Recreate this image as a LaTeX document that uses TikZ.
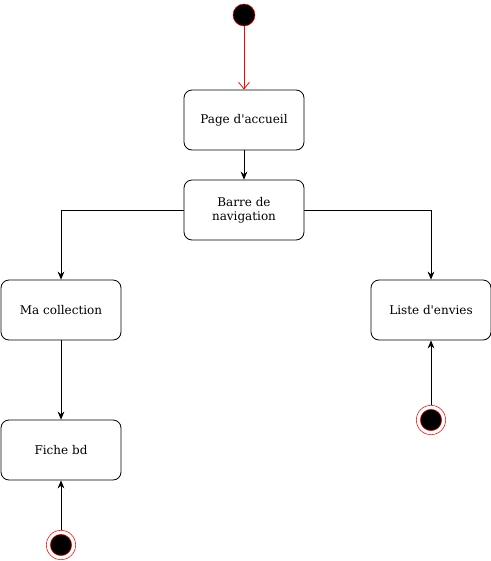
\documentclass[tikz,border=0pt]{standalone}
\usepackage{fontspec}
\setmainfont{DejaVu Serif}
\usetikzlibrary{arrows.meta,positioning}

\begin{document}
\begin{tikzpicture}[x=0.75pt,y=-0.75pt,>={Stealth[length=6pt,width=5pt]},font=\fontsize{9}{10.5}\selectfont,
  statebox/.style={draw,rounded corners=6pt,minimum width=90pt,minimum height=45pt,align=center,line width=0.6pt},
  startstate/.style={circle,draw=red,fill=black,minimum size=16.5pt,inner sep=0pt},
  endstate/.style={circle,draw=red,minimum size=22pt,inner sep=0pt,
    path picture={\fill[black,draw=red,line width=0.4pt] (path picture bounding box.center) circle (8pt);}},
  flow/.style={->,line width=0.6pt}]
\useasboundingbox (0,0) rectangle (491,561);
% states
\node[startstate] (init) at (244,15) {};
\node[statebox] (accueil) at (244,120) {Page d\textquotesingle accueil};
\node[statebox] (barre) at (244,210) {Barre de\\navigation};
\node[statebox] (collection) at (61,310) {Ma collection};
\node[statebox] (envies) at (431,310) {Liste d\textquotesingle envies};
\node[statebox] (fiche) at (61,450) {Fiche bd};
\node[endstate] (finL) at (61,545) {};
\node[endstate] (finR) at (431,420) {};
% transitions
\draw[->,red,line width=0.6pt,>={Straight Barb[length=5pt,width=8pt]}] (init) -- (accueil);
\draw[flow] (accueil) -- (barre);
\draw[flow] (barre.west) -| (collection.north);
\draw[flow] (barre.east) -| (envies.north);
\draw[flow] (collection) -- (fiche);
\draw[flow] (finL) -- (fiche);
\draw[flow] (finR) -- (envies);
\end{tikzpicture}
\end{document}
